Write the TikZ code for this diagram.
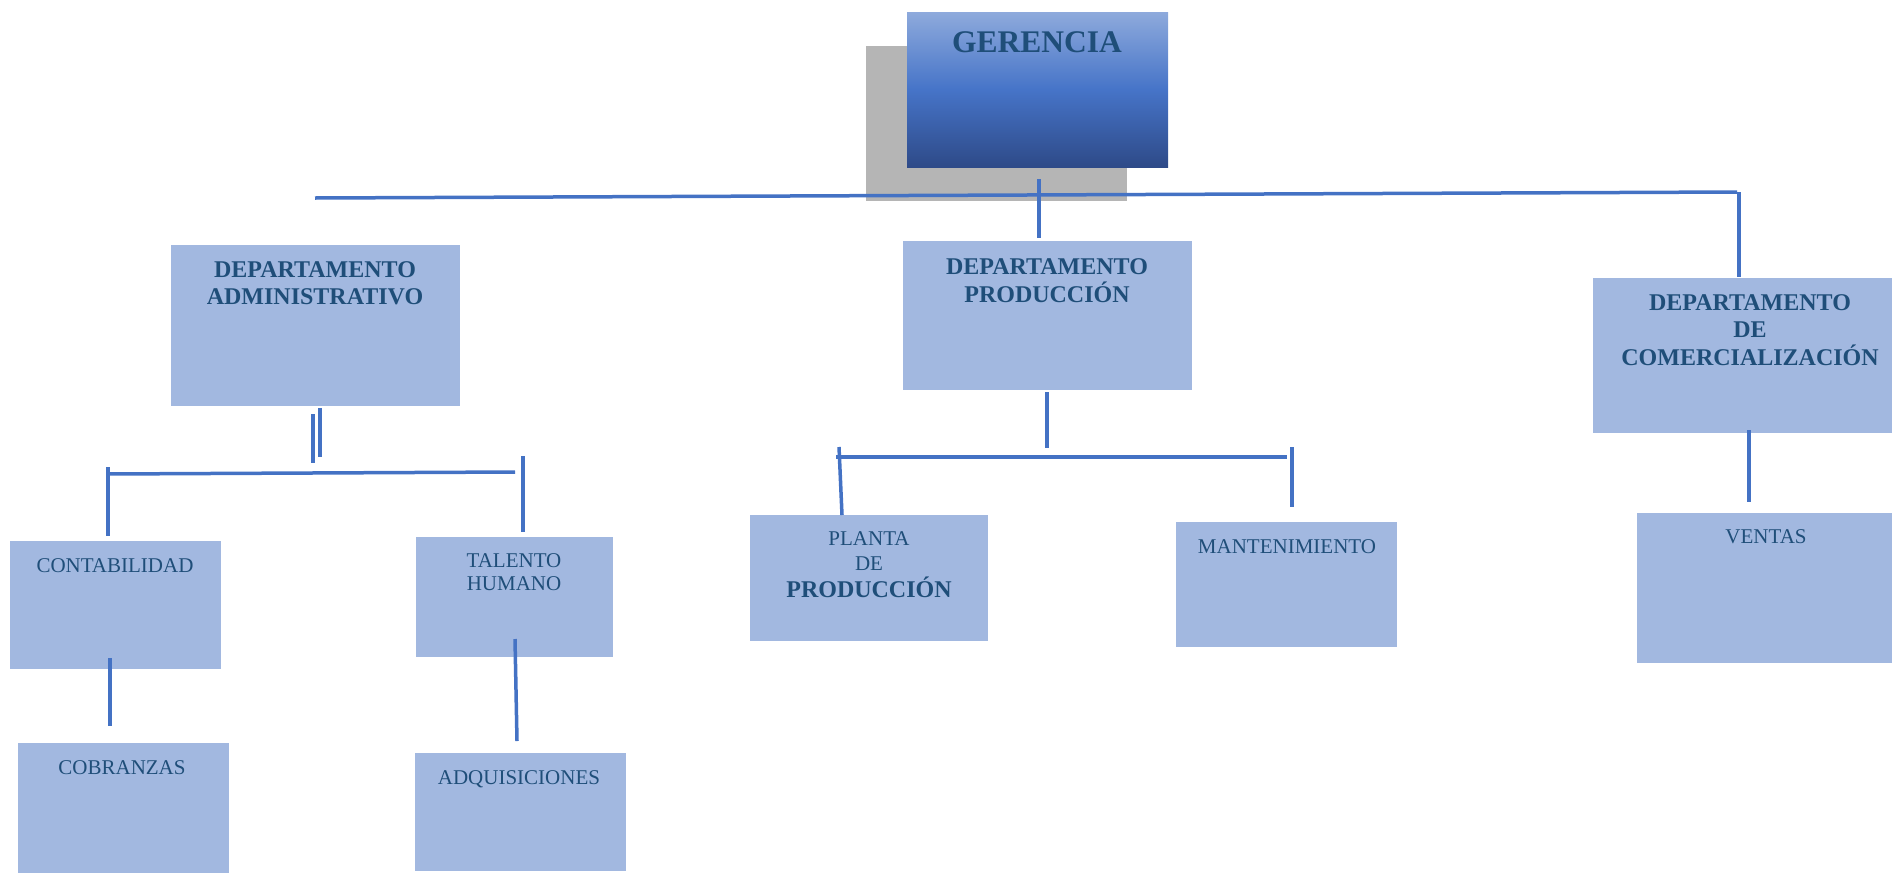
\documentclass[tikz,border=0pt]{standalone}
\usepackage{fontspec}
\setmainfont{Liberation Serif}
\definecolor{boxfill}{HTML}{A2B8E0}
\definecolor{txtblue}{HTML}{1F4E79}
\definecolor{linecol}{HTML}{4472C4}
\definecolor{shadowgray}{HTML}{B5B5B5}
\definecolor{gtop}{HTML}{8EAADC}
\definecolor{gmid}{HTML}{4674C8}
\definecolor{gbot}{HTML}{2E4A88}
\begin{document}
\begin{tikzpicture}[x=1pt,y=-1pt,
  box/.style={fill=boxfill,draw=none,inner sep=0pt,outer sep=0pt,anchor=north west},
  txt/.style={inner sep=0pt,anchor=base,text=txtblue,font=\fontsize{21}{23}\selectfont},
  btxt/.style={inner sep=0pt,anchor=base,text=txtblue,font=\bfseries\fontsize{24}{27}\selectfont},
  conn/.style={draw=linecol,line width=3.5pt}]
\useasboundingbox (0,0) rectangle (1892,873);
% shadow and gerencia
\fill[shadowgray] (866,46) rectangle (1127,201);
\shade[top color=gtop,bottom color=gbot,middle color=gmid] (907,12) rectangle (1168,167);
\node[box,minimum width=261pt,minimum height=155pt,fill=none] (ger) at (907,12) {};
\node[inner sep=0pt,anchor=base,text=txtblue,font=\bfseries\fontsize{31.5}{34}\selectfont] (ger-t) at (1037,52.5) {GERENCIA};
% departments
\node[box,minimum width=289pt,minimum height=161pt] (adm) at (171,245) {};
\node[btxt] (adm-t) at (315,277) {\begin{tabular}[t]{@{}c@{}}DEPARTAMENTO\\ADMINISTRATIVO\end{tabular}};
\node[box,minimum width=289pt,minimum height=149pt] (pro) at (903,241) {};
\node[btxt] (pro-t) at (1047,274) {\begin{tabular}[t]{@{}c@{}}DEPARTAMENTO\\PRODUCCIÓN\end{tabular}};
\node[box,minimum width=299pt,minimum height=155pt] (com) at (1593,278) {};
\node[btxt] (com-t) at (1750,310) {\begin{tabular}[t]{@{}c@{}}DEPARTAMENTO\\DE\\COMERCIALIZACIÓN\end{tabular}};
% sub units
\node[box,minimum width=211pt,minimum height=128pt] (con) at (10,541) {};
\node[txt] (con-t) at (115,572) {CONTABILIDAD};
\node[box,minimum width=211pt,minimum height=130pt] (cob) at (18,743) {};
\node[txt] (cob-t) at (122,774) {COBRANZAS};
\node[box,minimum width=197pt,minimum height=120pt] (tal) at (416,537) {};
\node[txt] (tal-t) at (514,567) {\begin{tabular}[t]{@{}c@{}}TALENTO\\HUMANO\end{tabular}};
\node[box,minimum width=211pt,minimum height=118pt] (adq) at (415,753) {};
\node[txt] (adq-t) at (519,784) {ADQUISICIONES};
\node[box,minimum width=238pt,minimum height=126pt] (pla) at (750,515) {};
\node[txt] (pla-t1) at (869,545) {PLANTA};
\node[txt] (pla-t2) at (869,570) {DE};
\node[btxt] (pla-t3) at (869,597) {PRODUCCIÓN};
\node[box,minimum width=221pt,minimum height=125pt] (man) at (1176,522) {};
\node[txt] (man-t) at (1287,553) {MANTENIMIENTO};
\node[box,minimum width=255pt,minimum height=150pt] (ven) at (1637,513) {};
\node[txt] (ven-t) at (1766,543) {VENTAS};
% connector coordinates
\coordinate (h1) at (315,198);
\coordinate (h2) at (1737,192);
\coordinate (h2b) at (1739,192);
\coordinate (comtop) at (1739,277);
\coordinate (g1) at (1039,179);
\coordinate (g2) at (1039,238);
\coordinate (a1) at (313,414); \coordinate (a2) at (313,463);
\coordinate (a3) at (320,408); \coordinate (a4) at (320,457);
\coordinate (ah1) at (107,474); \coordinate (ah2) at (515,472);
\coordinate (al1) at (108,467); \coordinate (al2) at (108,536);
\coordinate (ar1) at (523,456); \coordinate (ar2) at (523,532);
\coordinate (c1) at (110,658); \coordinate (c2) at (110,726);
\coordinate (t1) at (515,639); \coordinate (t2) at (517,741);
\coordinate (p1) at (1047,392); \coordinate (p2) at (1047,448);
\coordinate (ph1) at (836,457); \coordinate (ph2) at (1287,457);
\coordinate (pl1) at (839,447); \coordinate (pl2) at (842,515);
\coordinate (pr1) at (1292,447); \coordinate (pr2) at (1292,507);
\coordinate (v1) at (1749,430); \coordinate (v2) at (1749,502);
% connectors
\draw[conn] (h1) -- (h2);
\draw[conn] (h2b) -- (comtop);
\draw[conn] (g1) -- (g2);
\draw[conn] (a1) -- (a2);
\draw[conn] (a3) -- (a4);
\draw[conn] (ah1) -- (ah2);
\draw[conn] (al1) -- (al2);
\draw[conn] (ar1) -- (ar2);
\draw[conn] (c1) -- (c2);
\draw[conn] (t1) -- (t2);
\draw[conn] (p1) -- (p2);
\draw[conn] (ph1) -- (ph2);
\draw[conn] (pl1) -- (pl2);
\draw[conn] (pr1) -- (pr2);
\draw[conn] (v1) -- (v2);
\end{tikzpicture}
\end{document}
